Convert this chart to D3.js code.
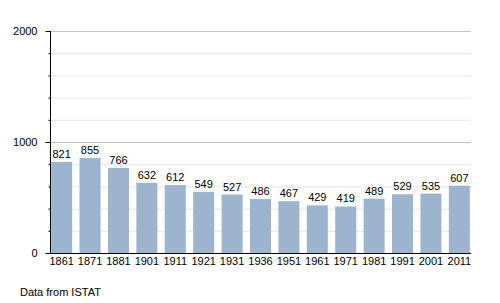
<!doctype html>
<html>
<head>
<script src="https://d3js.org/d3.v7.min.js"></script>
<style>
  body { margin: 0; background: #fff; }
  text { font-family: "Liberation Sans", Arial, sans-serif; fill: #000; }
</style>
</head>
<body>
<script>
// census years and population
var years = ["1861","1871","1881","1901","1911","1921","1931","1936","1951","1961","1971","1981","1991","2001","2011"];
var population = [821, 855, 766, 632, 612, 549, 527, 486, 467, 429, 419, 489, 529, 535, 607];
var majorTicks = [0, 1000, 2000];
var minorTicks = [200, 400, 600, 800, 1200, 1400, 1600, 1800];
var sourceNote = "Data from ISTAT";

var width = 500, height = 303;
var plotLeft = 50, plotRight = 471, plotTop = 31, plotBottom = 253;

var svg = d3.select("body").append("svg")
  .attr("width", width).attr("height", height);

var x = d3.scaleBand().domain(years).range([plotLeft, plotRight])
  .paddingInner(0.26).paddingOuter(0.04);
var y = d3.scaleLinear().domain([0, 2000]).range([plotBottom, plotTop]);

// grid
svg.append("g").selectAll("line").data(minorTicks).enter().append("line")
  .attr("x1", plotLeft).attr("x2", plotRight)
  .attr("y1", d => y(d) + 0.5).attr("y2", d => y(d) + 0.5)
  .attr("stroke", "#e6e6e6");
svg.append("g").selectAll("line").data(majorTicks.filter(d => d > 0)).enter().append("line")
  .attr("x1", plotLeft).attr("x2", plotRight)
  .attr("y1", d => y(d) + 0.5).attr("y2", d => y(d) + 0.5)
  .attr("stroke", "#c4c4c4");

// bars
var data = years.map((d, i) => ({year: d, value: population[i]}));
svg.append("g").selectAll("rect").data(data).enter().append("rect")
  .attr("x", d => x(d.year))
  .attr("width", x.bandwidth())
  .attr("y", d => y(d.value))
  .attr("height", d => plotBottom - y(d.value))
  .attr("fill", "#9db4cf");

svg.append("g").selectAll("text").data(data).enter().append("text")
  .attr("x", d => x(d.year) + x.bandwidth() / 2)
  .attr("y", d => y(d.value) - 4)
  .attr("text-anchor", "middle")
  .style("font-size", "11px")
  .text(d => d.value);

// y axis
var yAxis = svg.append("g").attr("transform", "translate(" + (plotLeft + 0.5) + ",0)")
  .call(d3.axisLeft(y).tickValues(majorTicks).tickSize(5).tickPadding(8).tickFormat(d3.format("d")));
yAxis.select(".domain").attr("stroke", "#000").attr("d", "M0," + plotTop + "V" + plotBottom);
yAxis.selectAll("text").style("font-size", "11px");
svg.append("g").attr("transform", "translate(" + (plotLeft + 0.5) + ",0)")
  .call(d3.axisLeft(y).tickValues(minorTicks).tickSize(2).tickFormat(""))
  .select(".domain").remove();

// x axis
var xAxis = svg.append("g").attr("transform", "translate(0," + (plotBottom + 0.5) + ")")
  .call(d3.axisBottom(x).tickSize(0).tickPadding(4));
xAxis.select(".domain").attr("stroke", "#000").attr("d", "M" + plotLeft + ",0H" + plotRight);
xAxis.selectAll("text").style("font-size", "11px");

svg.append("text").attr("x", 20).attr("y", 296)
  .style("font-size", "11px").text(sourceNote);
</script>
</body>
</html>
